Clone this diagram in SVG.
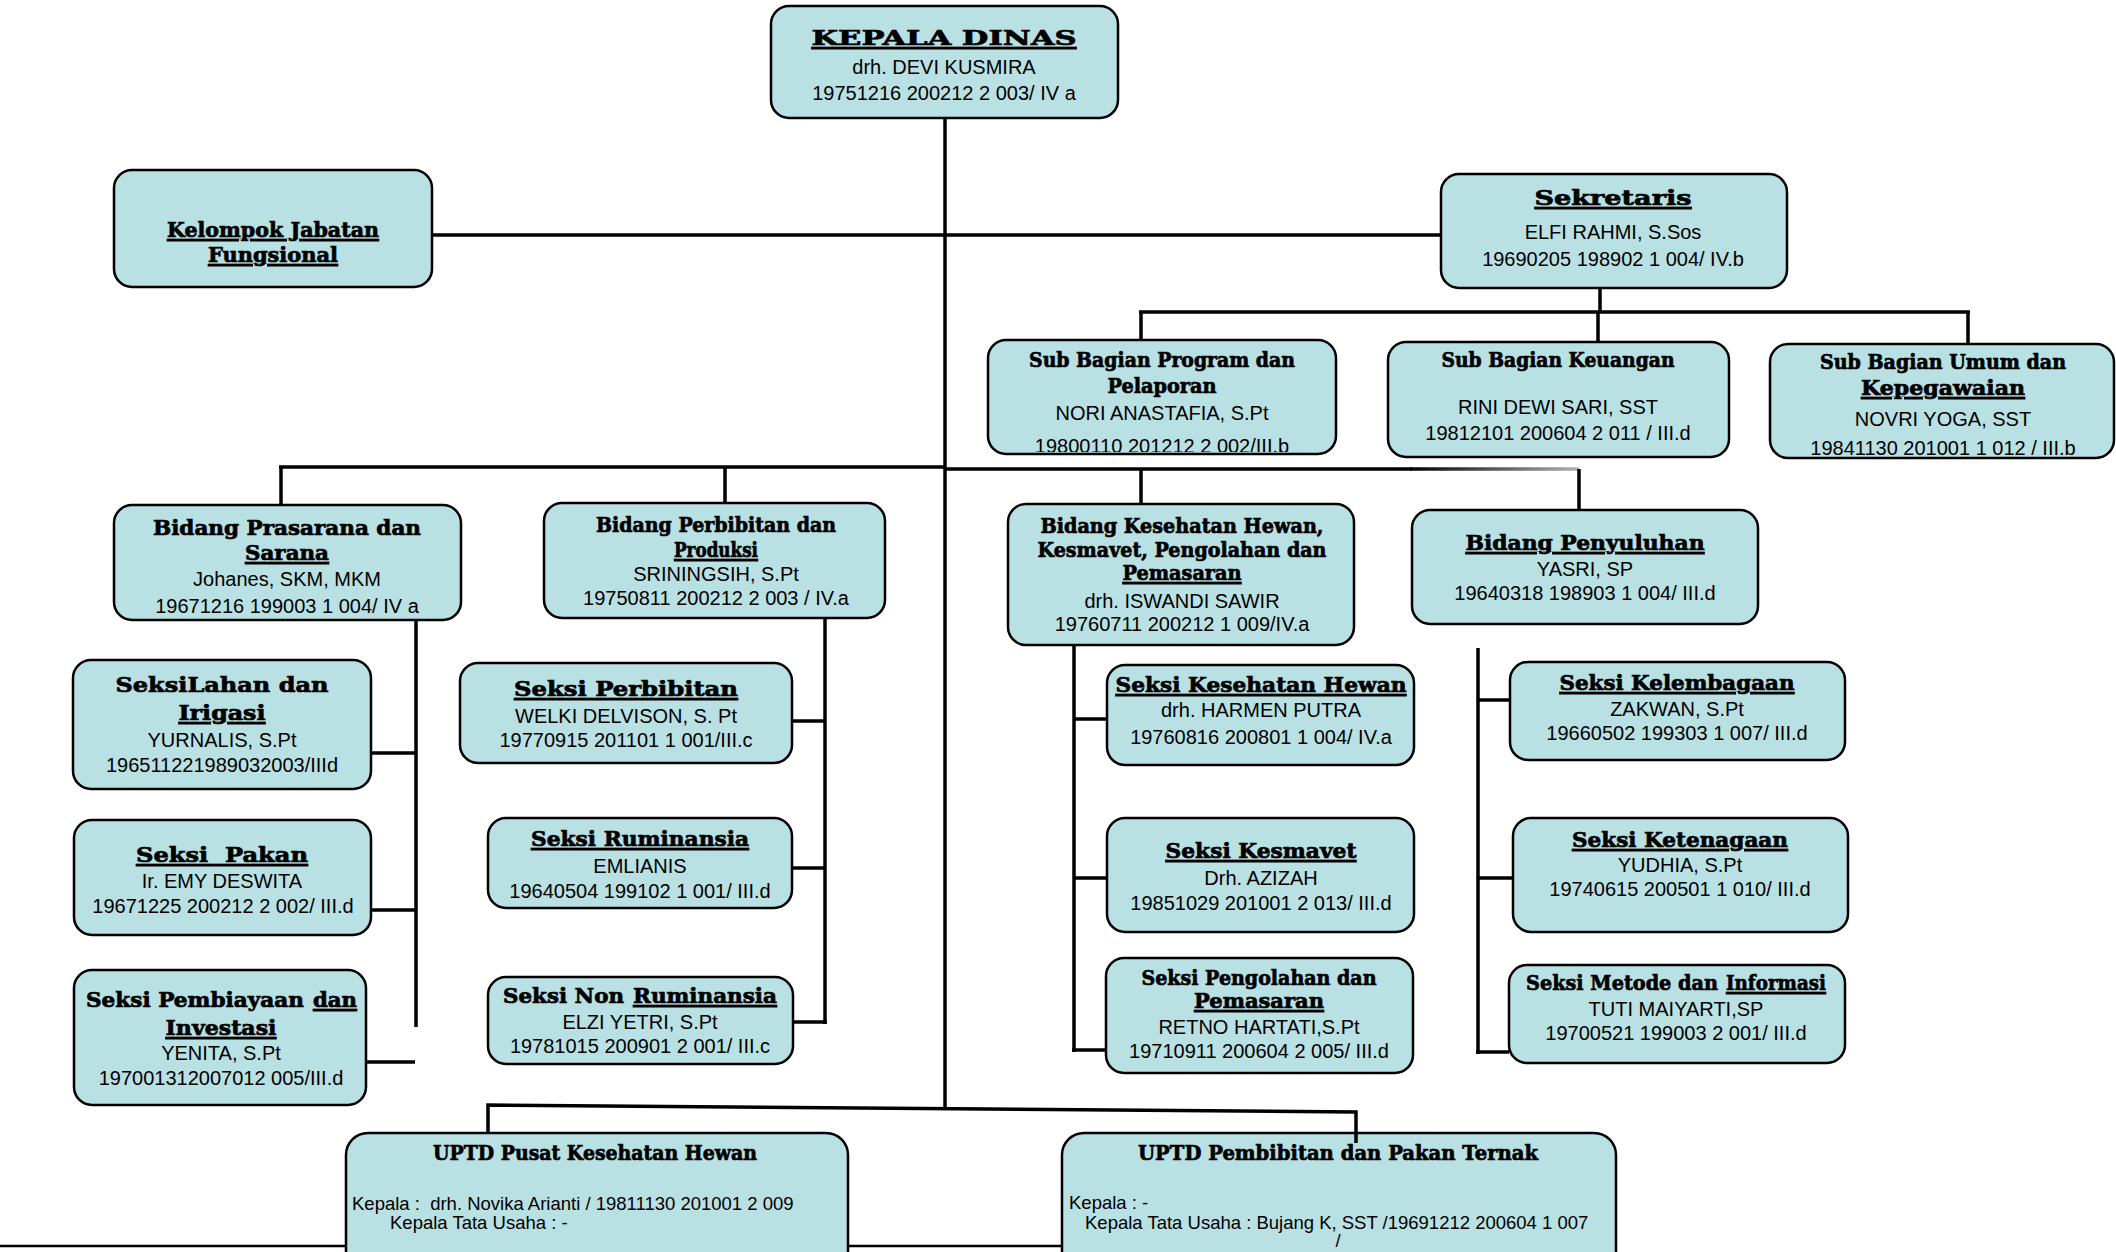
<svg xmlns="http://www.w3.org/2000/svg" width="2116" height="1252" viewBox="0 0 2116 1252">
<style>
.box{fill:#b9e0e3;stroke:#000;stroke-width:2.5}
.ln{stroke:#000;stroke-width:3.5;fill:none;stroke-linecap:butt}
.t{font-family:"DejaVu Serif","Liberation Serif",serif;font-weight:bold;text-anchor:middle;fill:#000;stroke:#000;stroke-width:0.7;font-size:21px}
.l{text-anchor:start}
.b{font-family:"Liberation Sans",Arial,sans-serif;text-anchor:middle;fill:#000;font-size:20px}
.s{font-family:"Liberation Sans",Arial,sans-serif;fill:#000;font-size:18.5px}
.u{text-decoration:underline}
</style>
<defs>
<linearGradient id="fade" gradientUnits="userSpaceOnUse" x1="1410" y1="0" x2="1579" y2="0">
<stop offset="0" stop-color="#000"/><stop offset="1" stop-color="#b0b0b0"/>
</linearGradient>
<clipPath id="cProg"><rect x="989" y="341" width="346" height="111" rx="17"/></clipPath>
<clipPath id="cUmum"><rect x="1771" y="345" width="342" height="111" rx="17"/></clipPath>
<clipPath id="cPras"><rect x="115" y="506" width="345" height="113" rx="17"/></clipPath>
</defs>
<rect width="2116" height="1252" fill="#fff"/>

<g id="connectors">
<line class="ln" x1="945" y1="118" x2="945" y2="1107"/>
<line class="ln" x1="432" y1="235" x2="1441" y2="235"/>
<line class="ln" x1="1600" y1="288" x2="1600" y2="312"/>
<line class="ln" x1="1139" y1="312" x2="1970" y2="312"/>
<line class="ln" x1="1141" y1="312" x2="1141" y2="340"/>
<line class="ln" x1="1598" y1="312" x2="1598" y2="342"/>
<line class="ln" x1="1968" y1="312" x2="1968" y2="344"/>
<line class="ln" x1="279" y1="467" x2="945" y2="467"/>
<line class="ln" x1="945" y1="469" x2="1412" y2="469"/>
<line x1="1410" y1="469" x2="1579" y2="469" stroke="url(#fade)" stroke-width="3.5"/>
<line class="ln" x1="281" y1="467" x2="281" y2="505"/>
<line class="ln" x1="725" y1="467" x2="725" y2="503"/>
<line class="ln" x1="1141" y1="469" x2="1141" y2="504"/>
<line class="ln" x1="1579" y1="469" x2="1579" y2="510"/>
<line class="ln" x1="416" y1="620" x2="416" y2="1027"/>
<line class="ln" x1="372" y1="753" x2="416" y2="753"/>
<line class="ln" x1="371" y1="910" x2="416" y2="910"/>
<line class="ln" x1="366" y1="1062" x2="415" y2="1062"/>
<line class="ln" x1="825" y1="618" x2="825" y2="1024"/>
<line class="ln" x1="792" y1="721" x2="825" y2="721"/>
<line class="ln" x1="792" y1="868" x2="825" y2="868"/>
<line class="ln" x1="793" y1="1022" x2="827" y2="1022"/>
<line class="ln" x1="1074" y1="645" x2="1074" y2="1052"/>
<line class="ln" x1="1074" y1="719" x2="1107" y2="719"/>
<line class="ln" x1="1074" y1="878" x2="1107" y2="878"/>
<line class="ln" x1="1072" y1="1050" x2="1106" y2="1050"/>
<line class="ln" x1="1478" y1="648" x2="1478" y2="1054"/>
<line class="ln" x1="1478" y1="700" x2="1510" y2="700"/>
<line class="ln" x1="1478" y1="878" x2="1513" y2="878"/>
<line class="ln" x1="1476" y1="1052" x2="1509" y2="1052"/>
<line x1="0" y1="1246" x2="1062" y2="1246" stroke="#000" stroke-width="2.5"/>
</g>

<g id="kepala-dinas">
<rect class="box" x="771" y="6" width="347" height="112" rx="18"/>
<text class="t u" x="944" y="45" font-size="32" textLength="265" lengthAdjust="spacingAndGlyphs">KEPALA DINAS</text>
<text class="b" x="944" y="74" font-size="21">drh. DEVI KUSMIRA</text>
<text class="b" x="944" y="100" font-size="21">19751216 200212 2 003/ IV a</text>
</g>

<g id="kelompok-jabatan">
<rect class="box" x="114" y="170" width="318" height="117" rx="18"/>
<text class="t u" x="273" y="237" font-size="22" textLength="212" lengthAdjust="spacingAndGlyphs">Kelompok Jabatan</text>
<text class="t u" x="273" y="262" font-size="22" textLength="130" lengthAdjust="spacingAndGlyphs">Fungsional</text>
</g>

<g id="sekretaris">
<rect class="box" x="1441" y="174" width="346" height="114" rx="18"/>
<text class="t u" x="1613" y="205" font-size="28" textLength="157" lengthAdjust="spacingAndGlyphs">Sekretaris</text>
<text class="b" x="1613" y="239" font-size="21">ELFI RAHMI, S.Sos</text>
<text class="b" x="1613" y="266" font-size="21">19690205 198902 1 004/ IV.b</text>
</g>

<g id="sub-bagian-program">
<rect class="box" x="988" y="340" width="348" height="114" rx="18"/>
<text class="t" x="1162" y="367" textLength="266" lengthAdjust="spacingAndGlyphs">Sub Bagian Program dan</text>
<text class="t" x="1162" y="393" textLength="109" lengthAdjust="spacingAndGlyphs">Pelaporan</text>
<text class="b" x="1162" y="420">NORI ANASTAFIA, S.Pt</text>
<text class="b" x="1162" y="453" clip-path="url(#cProg)">19800110 201212 2 002/III.b</text>
</g>

<g id="sub-bagian-keuangan">
<rect class="box" x="1388" y="342" width="341" height="115" rx="18"/>
<text class="t" x="1558" y="367" textLength="233" lengthAdjust="spacingAndGlyphs">Sub Bagian Keuangan</text>
<text class="b" x="1558" y="414">RINI DEWI SARI, SST</text>
<text class="b" x="1558" y="440">19812101 200604 2 011 / III.d</text>
</g>

<g id="sub-bagian-umum">
<rect class="box" x="1770" y="344" width="344" height="114" rx="18"/>
<text class="t" x="1943" y="369" textLength="246" lengthAdjust="spacingAndGlyphs">Sub Bagian Umum dan</text>
<text class="t u" x="1943" y="395" textLength="164" lengthAdjust="spacingAndGlyphs">Kepegawaian</text>
<text class="b" x="1943" y="426">NOVRI YOGA, SST</text>
<text class="b" x="1943" y="455" clip-path="url(#cUmum)">19841130 201001 1 012 / III.b</text>
</g>

<g id="bidang-prasarana">
<rect class="box" x="114" y="505" width="347" height="115" rx="18"/>
<text class="t" x="287" y="535" font-size="22" textLength="268" lengthAdjust="spacingAndGlyphs">Bidang Prasarana dan</text>
<text class="t u" x="287" y="560" font-size="22" textLength="84" lengthAdjust="spacingAndGlyphs">Sarana</text>
<text class="b" x="287" y="586">Johanes, SKM, MKM</text>
<text class="b" x="287" y="613" clip-path="url(#cPras)">19671216 199003 1 004/ IV a</text>
</g>

<g id="bidang-perbibitan">
<rect class="box" x="544" y="503" width="341" height="115" rx="18"/>
<text class="t" x="716" y="532" textLength="240" lengthAdjust="spacingAndGlyphs">Bidang Perbibitan dan</text>
<text class="t u" x="716" y="557" textLength="84" lengthAdjust="spacingAndGlyphs">Produksi</text>
<text class="b" x="716" y="581">SRININGSIH, S.Pt</text>
<text class="b" x="716" y="605">19750811 200212 2 003 / IV.a</text>
</g>

<g id="bidang-kesehatan-hewan">
<rect class="box" x="1008" y="504" width="346" height="141" rx="18"/>
<text class="t" x="1182" y="533" textLength="283" lengthAdjust="spacingAndGlyphs">Bidang Kesehatan Hewan,</text>
<text class="t" x="1182" y="557" textLength="289" lengthAdjust="spacingAndGlyphs">Kesmavet, Pengolahan dan</text>
<text class="t u" x="1182" y="580" textLength="119" lengthAdjust="spacingAndGlyphs">Pemasaran</text>
<text class="b" x="1182" y="608">drh. ISWANDI SAWIR</text>
<text class="b" x="1182" y="631">19760711 200212 1 009/IV.a</text>
</g>

<g id="bidang-penyuluhan">
<rect class="box" x="1412" y="510" width="346" height="114" rx="18"/>
<text class="t u" x="1585" y="550" font-size="22" textLength="239" lengthAdjust="spacingAndGlyphs">Bidang Penyuluhan</text>
<text class="b" x="1585" y="576">YASRI, SP</text>
<text class="b" x="1585" y="600">19640318 198903 1 004/ III.d</text>
</g>

<g id="seksi-lahan-irigasi">
<rect class="box" x="73" y="660" width="298" height="129" rx="18"/>
<text class="t" x="222" y="692" font-size="24" textLength="213" lengthAdjust="spacingAndGlyphs">SeksiLahan dan</text>
<text class="t u" x="222" y="720" font-size="24" textLength="87" lengthAdjust="spacingAndGlyphs">Irigasi</text>
<text class="b" x="222" y="747">YURNALIS, S.Pt</text>
<text class="b" x="222" y="772">196511221989032003/IIId</text>
</g>

<g id="seksi-pakan">
<rect class="box" x="74" y="820" width="297" height="115" rx="18"/>
<text class="t u" x="222" y="862" font-size="24" textLength="172" lengthAdjust="spacingAndGlyphs" xml:space="preserve">Seksi  Pakan</text>
<text class="b" x="222" y="888">Ir. EMY DESWITA</text>
<text class="b" x="223" y="913">19671225 200212 2 002/ III.d</text>
</g>

<g id="seksi-pembiayaan">
<rect class="box" x="74" y="970" width="292" height="135" rx="18"/>
<text class="t l" x="86" y="1007" font-size="21.5" textLength="218" lengthAdjust="spacingAndGlyphs">Seksi Pembiayaan</text>
<text class="t l u" x="313" y="1007" font-size="23" textLength="44" lengthAdjust="spacingAndGlyphs">dan</text>
<text class="t u" x="221" y="1035" font-size="23" textLength="111" lengthAdjust="spacingAndGlyphs">Investasi</text>
<text class="b" x="221" y="1060">YENITA, S.Pt</text>
<text class="b" x="221" y="1085">197001312007012 005/III.d</text>
</g>

<g id="seksi-perbibitan">
<rect class="box" x="460" y="663" width="332" height="100" rx="18"/>
<text class="t u" x="626" y="696" font-size="24" textLength="224" lengthAdjust="spacingAndGlyphs">Seksi Perbibitan</text>
<text class="b" x="626" y="723">WELKI DELVISON, S. Pt</text>
<text class="b" x="626" y="747">19770915 201101 1 001/III.c</text>
</g>

<g id="seksi-ruminansia">
<rect class="box" x="488" y="818" width="304" height="90" rx="18"/>
<text class="t u" x="640" y="846" font-size="23" textLength="218" lengthAdjust="spacingAndGlyphs">Seksi Ruminansia</text>
<text class="b" x="640" y="873">EMLIANIS</text>
<text class="b" x="640" y="898">19640504 199102 1 001/ III.d</text>
</g>

<g id="seksi-non-ruminansia">
<rect class="box" x="488" y="977" width="305" height="87" rx="18"/>
<text class="t l" x="503" y="1003" font-size="22" textLength="121" lengthAdjust="spacingAndGlyphs">Seksi Non</text>
<text class="t l u" x="633" y="1003" font-size="23" textLength="144" lengthAdjust="spacingAndGlyphs">Ruminansia</text>
<text class="b" x="640" y="1029">ELZI YETRI, S.Pt</text>
<text class="b" x="640" y="1053">19781015 200901 2 001/ III.c</text>
</g>

<g id="seksi-kesehatan-hewan">
<rect class="box" x="1107" y="665" width="307" height="100" rx="18"/>
<text class="t u" x="1261" y="692" font-size="22" textLength="291" lengthAdjust="spacingAndGlyphs">Seksi Kesehatan Hewan</text>
<text class="b" x="1261" y="717" font-size="19.5">drh. HARMEN PUTRA</text>
<text class="b" x="1261" y="744" font-size="19.5">19760816 200801 1 004/ IV.a</text>
</g>

<g id="seksi-kesmavet">
<rect class="box" x="1107" y="818" width="307" height="114" rx="18"/>
<text class="t u" x="1261" y="858" font-size="24" textLength="191" lengthAdjust="spacingAndGlyphs">Seksi Kesmavet</text>
<text class="b" x="1261" y="885">Drh. AZIZAH</text>
<text class="b" x="1261" y="910">19851029 201001 2 013/ III.d</text>
</g>

<g id="seksi-pengolahan">
<rect class="box" x="1106" y="958" width="307" height="115" rx="18"/>
<text class="t" x="1259" y="985" font-size="21" textLength="235" lengthAdjust="spacingAndGlyphs">Seksi Pengolahan dan</text>
<text class="t u" x="1259" y="1008" font-size="21" textLength="130" lengthAdjust="spacingAndGlyphs">Pemasaran</text>
<text class="b" x="1259" y="1034">RETNO HARTATI,S.Pt</text>
<text class="b" x="1259" y="1058">19710911 200604 2 005/ III.d</text>
</g>

<g id="seksi-kelembagaan">
<rect class="box" x="1510" y="662" width="335" height="98" rx="18"/>
<text class="t u" x="1677" y="690" font-size="23" textLength="235" lengthAdjust="spacingAndGlyphs">Seksi Kelembagaan</text>
<text class="b" x="1677" y="716">ZAKWAN, S.Pt</text>
<text class="b" x="1677" y="740">19660502 199303 1 007/ III.d</text>
</g>

<g id="seksi-ketenagaan">
<rect class="box" x="1513" y="818" width="335" height="114" rx="18"/>
<text class="t u" x="1680" y="847" font-size="23" textLength="216" lengthAdjust="spacingAndGlyphs">Seksi Ketenagaan</text>
<text class="b" x="1680" y="872">YUDHIA, S.Pt</text>
<text class="b" x="1680" y="896">19740615 200501 1 010/ III.d</text>
</g>

<g id="seksi-metode-informasi">
<rect class="box" x="1509" y="965" width="336" height="98" rx="18"/>
<text class="t l" x="1526" y="990" font-size="19.5" textLength="192" lengthAdjust="spacingAndGlyphs">Seksi Metode dan</text>
<text class="t l u" x="1726" y="990" font-size="21" textLength="100" lengthAdjust="spacingAndGlyphs">Informasi</text>
<text class="b" x="1676" y="1016">TUTI MAIYARTI,SP</text>
<text class="b" x="1676" y="1040">19700521 199003 2 001/ III.d</text>
</g>

<g id="uptd-pusat-kesehatan-hewan">
<rect class="box" x="346" y="1133" width="502" height="150" rx="22"/>
<text class="t" x="595" y="1160" font-size="19" textLength="324" lengthAdjust="spacingAndGlyphs">UPTD Pusat Kesehatan Hewan</text>
<text class="s" x="352" y="1210" xml:space="preserve">Kepala :  drh. Novika Arianti / 19811130 201001 2 009</text>
<text class="s" x="390" y="1229">Kepala Tata Usaha : -</text>
</g>

<g id="uptd-pembibitan-pakan">
<rect class="box" x="1062" y="1133" width="554" height="150" rx="22"/>
<text class="t" x="1338" y="1160" font-size="19" textLength="400" lengthAdjust="spacingAndGlyphs">UPTD Pembibitan dan Pakan Ternak</text>
<text class="s" x="1069" y="1209">Kepala : -</text>
<text class="s" x="1085" y="1229">Kepala Tata Usaha : Bujang K, SST /19691212 200604 1 007</text>
<text class="s" x="1338" y="1247" text-anchor="middle">/</text>
</g>

<g id="connectors-uptd">
<polyline class="ln" points="488,1133 488,1105 1356,1112 1356,1143"/>
</g>
</svg>
